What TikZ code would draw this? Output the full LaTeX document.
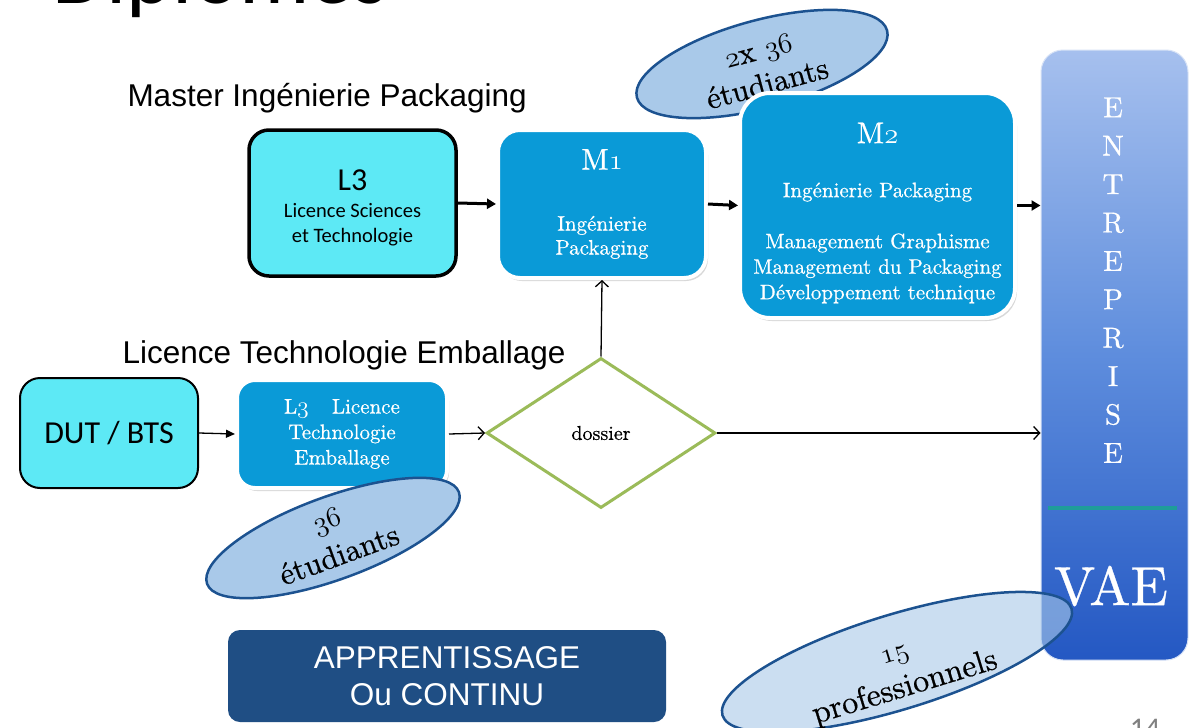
\documentclass[tikz,border=0pt]{standalone}
\usepackage{fontspec}
\setmainfont{lmroman10-regular.otf}[FakeBold=0.6]
\usetikzlibrary{arrows.meta,shapes.geometric,shadows}
\newfontfamily\calib{Carlito}
\newfontfamily\arial{Liberation Sans}
\newcommand\fsz[2]{\fontsize{#1}{#2}\selectfont}
\newcommand\osn[1]{\scalebox{1.15}{\fontencoding{OML}\fontfamily{lmm}\fontseries{m}\fontshape{it}\selectfont #1}}
\definecolor{cyanfill}{HTML}{5DE9F5}
\definecolor{bluefill}{HTML}{0A9AD7}
\definecolor{ellfill}{HTML}{A9C9E9}
\definecolor{elldraw}{HTML}{1C5290}
\definecolor{barTop}{HTML}{A6C0EE}
\definecolor{barMid}{HTML}{5E8DDD}
\definecolor{barBot}{HTML}{2458C3}
\definecolor{tealline}{HTML}{1E9D9A}
\definecolor{dgreen}{HTML}{9BBB59}
\definecolor{navyfill}{HTML}{1F4E84}
\begin{document}
\begin{tikzpicture}[x=1pt,y=-1pt,line width=1pt,
  bluebox/.style={fill=bluefill, draw=white, line width=4pt, rounded corners=22pt,
    drop shadow={opacity=0.3, shadow xshift=2pt, shadow yshift=-3pt},
    text=white, align=center, inner sep=0pt},
  cyanbox/.style={fill=cyanfill, draw=black, rounded corners=20pt, align=center, inner sep=0pt, font=\calib},
  bubble/.style={ellipse, fill=ellfill, draw=elldraw, line width=2.5pt, inner sep=-15pt, align=center, text=black},
  thickarrow/.style={line width=3pt, -{Triangle[length=9pt,width=10pt]}},
  thinarrow/.style={line width=1.3pt, -{Triangle[length=9pt,width=8pt]}},
  openarrow/.style={line width=1.3pt, -{Straight Barb[length=6pt,width=13pt]}},
  lbltext/.style={inner sep=0pt, anchor=base west, font=\arial\fsz{31.5}{36}, text=black}
]
\useasboundingbox (0,0) rectangle (1189,728);
\fill[white] (0,0) rectangle (1189,728);

% title and page number (cut off by the page edge)
\begin{scope}
\clip (0,0) rectangle (1189,728);
\node[inner sep=0pt, anchor=base west, font=\calib\fsz{88}{96}, text=black] (title) at (52,3) {Diplômes};
\node[inner sep=0pt, anchor=north, font=\calib\fsz{30}{34}, text=gray] (page) at (1145,719) {14};
\end{scope}

% labels
\node[lbltext] (lblmaster) at (127,106) {Master Ingénierie Packaging};
\node[lbltext] (lbllic) at (122,363) {Licence Technologie Emballage};

% bubble behind M2
\node[bubble, rotate=15, minimum width=259pt, minimum height=88pt, font=\fsz{31}{35}] (b1) at (762,64)
  {\rule{0pt}{26pt}\osn{2}x \osn{36}\\étudiants};

% upper row
\node[cyanbox, line width=3.5pt, minimum width=207pt, minimum height=146pt, font=\calib\fsz{20.5}{25}] (l3) at (352.5,203)
  {\fsz{32}{34}\rule{0pt}{30pt}L3\\[2pt]\fsz{20.5}{25}Licence Sciences\\\fsz{20.5}{25}et Technologie};
\node[bluebox, minimum width=208pt, minimum height=148pt, font=\fsz{21}{24}] (m1) at (602,204)
  {\fsz{30}{32}M\osn{1}\\[37pt]\fsz{21}{24}Ingénierie\\\fsz{21}{24}Packaging};
\node[bluebox, rounded corners=30pt, minimum width=275pt, minimum height=225pt, font=\fsz{21}{25.5}] (m2) at (877.5,205.5)
  {\fsz{30}{32}\rule{0pt}{35.5pt}M\osn{2}\\[28.5pt]\fsz{21}{25}Ingénierie Packaging\\[25.5pt]\fsz{21}{25}Management Graphisme\\\fsz{21}{25}Management du Packaging\\\fsz{21}{25}Développement technique};

% entreprise bar
\node[draw=white!75!barMid, line width=1pt, rounded corners=22pt, top color=barTop, bottom color=barBot, middle color=barMid,
  minimum width=147pt, minimum height=610pt, inner sep=0pt] (bar) at (1114.5,355) {};
\node[inner sep=0pt, anchor=north, align=center, text=white, font=\fsz{29}{38.4}] (entr) at (1113,97)
  {E\\N\\T\\R\\E\\P\\R\\I\\S\\E};
\draw[tealline, line width=4pt] (1048,508) -- (1177,508);
\node[inner sep=0pt, text=white, font=\fsz{55}{60}] (vae) at (1111,586) {VAE};

% lower row
\node[cyanbox, line width=2pt, minimum width=178pt, minimum height=110pt, font=\calib\fsz{32}{36}] (dut) at (109,433) {DUT / BTS};
\node[bluebox, rounded corners=18pt, minimum width=210pt, minimum height=108pt, font=\fsz{21}{25.5}] (l3lic) at (342,434)
  {L\osn{3}\hspace{1.1em}Licence\\Technologie\\Emballage};
\node[diamond, draw=dgreen, line width=3pt, fill=white, minimum width=229pt, minimum height=150pt, aspect=1.53,
  inner sep=0pt, font=\fsz{20}{24}] (dossier) at (601,433) {dossier};

\node[bubble, rotate=20, minimum width=268pt, minimum height=83pt, font=\fsz{31}{38}] (b2) at (333,538) {\osn{36}\\étudiants};

% apprentissage
\node[fill=navyfill, rounded corners=12pt, minimum width=438pt, minimum height=92pt, inner sep=0pt,
  text=white, align=center, font=\arial\fsz{31.5}{37}] (appr) at (447,676) {APPRENTISSAGE\\Ou CONTINU};

% bubble over bar
\begin{scope}
\clip (0,0) rectangle (1189,728);
\node[bubble, rotate=17, fill opacity=0.6, text opacity=1, minimum width=365pt, minimum height=95pt, font=\fsz{32}{37}] (b3) at (897,662)
  {\rule{0pt}{40pt}\osn{15}\\professionnels};
\end{scope}

% connectors
\draw[thickarrow] (l3.east) -- (m1.west);
\draw[thickarrow] (m1.east) -- (m2.west);
\draw[thickarrow] (m2.east) -- (bar.west |- m2.east);
\draw[thinarrow] (dut.east) -- (l3lic.west);
\draw[openarrow] (l3lic.east) -- (dossier.west);
\draw[openarrow] (dossier.east) -- (bar.west |- dossier.east);
\draw[openarrow] (dossier.north) -- (m1.south);
\end{tikzpicture}
\end{document}
